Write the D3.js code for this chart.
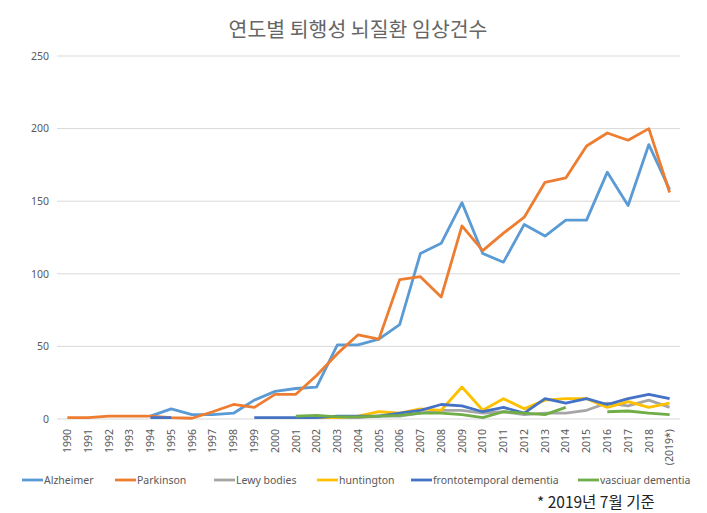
<!DOCTYPE html>
<html><head><meta charset="utf-8">
<script src="https://cdn.jsdelivr.net/npm/d3@7"></script>
<style>body{margin:0;background:#fff}svg{display:block}</style>
</head><body><svg id="c" width="707" height="513"></svg>
<script>
const years = ["1990","1991","1992","1993","1994","1995","1996","1997","1998","1999","2000","2001","2002","2003","2004","2005","2006","2007","2008","2009","2010","2011","2012","2013","2014","2015","2016","2017","2018","(2019*)"];
const yTicks = [0,50,100,150,200,250];
const seriesNames = ["Alzheimer","Parkinson","Lewy bodies","huntington","frontotemporal dementia","vasciuar dementia"];
const seriesColors = ["#5B9BD5","#ED7D31","#A5A5A5","#FFC000","#4472C4","#70AD47"];
const alzheimer = [null,null,null,null,2,7,3,3,4,13,19,21,22,51,51,55,65,114,121,149,114,108,134,126,137,137,170,147,189,158];
const parkinson = [1,1,2,2,2,1,0.5,5,10,8,17,17,30,45,58,55,96,98,84,133,116,128,139,163,166,188,197,192,200,156];
const lewy = [null,null,null,null,null,null,null,null,null,null,null,null,null,1,1,2,2,4,6,6,4,5,3,4,4,6,11,9,13,8];
const huntington = [null,null,null,null,null,null,null,null,null,null,null,null,1,1,2,5,4,7,6,22,6,14,7,13,14,14,8,12,8,11];
const frontotemporal = [null,null,null,null,1,1,null,null,null,1,1,1,1,2,2,2,4,6,10,9,5,8,4,14,11,14,10,14,17,14];
const vascular = [null,null,null,null,null,null,null,null,null,null,null,2,2.5,1.5,1.5,2,2.5,4,4,3,1,5,4,3,8,null,5,5.5,4,3];
const allSeries = [alzheimer,parkinson,lewy,huntington,frontotemporal,vascular];

const svg = d3.select("#c");
const font = "'Noto Sans','Noto Sans CJK KR',sans-serif";
const x = d3.scaleBand().domain(years).range([57,680]);
const y = d3.scaleLinear().domain([0,250]).range([419,56]);

// title
svg.append("text").attr("x",358).attr("y",37).attr("text-anchor","middle")
  .attr("font-family","'Noto Sans CJK KR',sans-serif").attr("font-size",20.5).attr("fill","#666")
  .text("연도별 퇴행성 뇌질환 임상건수");

// grid
svg.append("g").selectAll("line").data(yTicks).join("line")
  .attr("x1",57).attr("x2",680).attr("y1",d=>y(d)).attr("y2",d=>y(d))
  .attr("stroke","#d9d9d9").attr("stroke-width",1);

// y axis labels
const yAxis = d3.axisLeft(y).tickValues(yTicks).tickSize(0).tickPadding(8);
const gy = svg.append("g").attr("transform","translate(57,0)").call(yAxis);
gy.select(".domain").remove();
gy.selectAll("text").attr("font-family",font).attr("font-size",10.5).attr("fill","#595959");

// x axis labels
const xAxis = d3.axisBottom(x).tickSize(0).tickPadding(0);
const gx = svg.append("g").attr("transform","translate(0,419)").call(xAxis);
gx.select(".domain").remove();
gx.selectAll("text").attr("font-family",font).attr("font-size",10.5).attr("fill","#595959")
  .attr("text-anchor","end").attr("transform","rotate(-90)").attr("dx","-10").attr("dy","0.35em").attr("y",0).attr("x",0);

// lines
const line = d3.line().defined(d=>d.v!=null).x(d=>x(d.k)+x.bandwidth()/2).y(d=>y(d.v));
allSeries.forEach((s,i)=>{
  svg.append("path").datum(s.map((v,j)=>({k:years[j],v})))
    .attr("d",line).attr("fill","none").attr("stroke",seriesColors[i])
    .attr("stroke-width",2.8).attr("stroke-linejoin","round");
});

// legend
const legendX = [22,115,214,317,411,578];
const lg = svg.append("g");
seriesNames.forEach((n,i)=>{
  lg.append("line").attr("x1",legendX[i]).attr("x2",legendX[i]+21).attr("y1",480).attr("y2",480)
    .attr("stroke",seriesColors[i]).attr("stroke-width",2.8);
  lg.append("text").attr("x",legendX[i]+22).attr("y",484).attr("font-family",font).attr("font-size",10.5)
    .attr("fill","#595959").text(n);
});

// note
svg.append("text").attr("x",537).attr("y",508).attr("font-family","'Noto Sans CJK KR',sans-serif")
  .attr("font-size",15.5).attr("fill","#222").text("* 2019년 7월 기준");
</script></body></html>
